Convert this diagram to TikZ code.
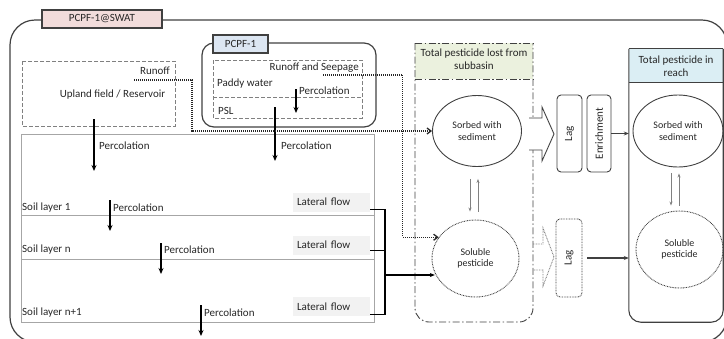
\documentclass[tikz,border=0pt]{standalone}
\usepackage{fontspec}
\setmainfont{Carlito}
\usetikzlibrary{shapes.geometric,arrows.meta,calc}
\definecolor{tabpink}{HTML}{F2DCDB}
\definecolor{tabblue}{HTML}{DCE6F2}
\definecolor{hdrgreen}{HTML}{EBF1DE}
\definecolor{hdrcyan}{HTML}{DBEEF4}
\definecolor{lfgray}{HTML}{F2F2F2}
\definecolor{ink}{HTML}{262626}
\definecolor{edge}{HTML}{404040}
\definecolor{soilgray}{HTML}{A6A6A6}
\definecolor{dashgray}{HTML}{808080}

\begin{document}
\begin{tikzpicture}[x=1pt,y=-1pt,
  txt/.style={font=\fontsize{11}{12.5}\selectfont, text=ink, inner sep=0pt},
  small/.style={font=\fontsize{10}{11.5}\selectfont, text=ink, align=center, inner sep=0pt},
  tabbox/.style={draw=edge, line width=1.1pt, txt, minimum height=18pt},
  dashbox/.style={draw=dashgray, line width=0.8pt, dash pattern=on 4pt off 2pt},
  perc/.style={-{Stealth[length=6pt,width=5pt]}, line width=1.2pt, black},
  flowdot/.style={-{Straight Barb[length=4pt,width=6pt]}, line width=1.3pt, black!85,
                  dash pattern=on 1.1pt off 0.9pt},
  lateral/.style={fill=lfgray, txt, text width=69pt, align=left, inner xsep=4pt,
                  minimum height=19pt},
  sorbed/.style={ellipse, draw=edge, line width=0.9pt, small},
  soluble/.style={ellipse, draw=edge, line width=0.9pt, dash pattern=on 0.8pt off 0.8pt, small},
  equil/.style={-{Stealth[length=4pt,width=3pt]}, line width=0.8pt, dashgray},
  lagbox/.style={draw=edge, line width=0.9pt, rounded corners=4pt},
  outflow/.style={-{Stealth[length=5pt,width=4pt]}, line width=1.2pt, edge}
]
\clip (0,0) rectangle (724,338);

% outer model frame and its tab
\draw[edge, line width=1.2pt, rounded corners=25pt] (10,20) rectangle (727,342);
\node[tabbox, fill=tabpink, minimum width=120pt] (swat) at (102,19) {PCPF-1@SWAT};

% PCPF-1 paddy module
\draw[edge, line width=1.2pt, rounded corners=12pt] (202,43) rectangle (376,127);
\node[tabbox, fill=tabblue, minimum width=55pt] (pcpf) at (240.5,44) {PCPF-1};
\draw[dashbox] (213,60) rectangle (362,118);
\draw[dashbox] (213,97) -- (362,97);
\node[txt, anchor=east] (rs) at (359,68) {Runoff and Seepage};
\node[txt, anchor=west] (paddy) at (217,84) {Paddy water};
\node[txt, anchor=west] (pwperc) at (299,91) {Percolation};
\node[txt, anchor=west] (psl) at (218,111) {PSL};
\coordinate (pw0) at (296,89);
\coordinate (pw1) at (296,113);
\draw[perc] (pw0) -- (pw1);

% upland field / reservoir
\draw[dashbox] (22,61) rectangle (175,126);
\node[txt, anchor=east] (runoff) at (170,71) {Runoff};
\node[txt] (upland) at (112.5,95) {Upland field / Reservoir};

% soil profile
\draw[soilgray, line width=1pt] (21,134) rectangle (374,322);
\draw[soilgray, line width=1pt] (21,215) -- (374,215);
\draw[soilgray, line width=1pt] (21,259) -- (374,259);

\coordinate (up0) at (94,119);  \coordinate (up1) at (94,171);
\draw[perc] (up0) -- (up1);
\node[txt, anchor=west] at (99,146) {Percolation};
\coordinate (ps0) at (275,107); \coordinate (ps1) at (275,161);
\draw[perc] (ps0) -- (ps1);
\node[txt, anchor=west] at (281,146) {Percolation};

\node[txt, anchor=west] (sl1) at (22,208) {Soil layer 1};
\coordinate (a10) at (110,200); \coordinate (a11) at (110,231);
\draw[perc] (a10) -- (a11);
\node[txt, anchor=west] at (113,208) {Percolation};

\node[txt, anchor=west] (sln) at (22,250) {Soil layer n};
\coordinate (a20) at (161,243); \coordinate (a21) at (161,274);
\draw[perc] (a20) -- (a21);
\node[txt, anchor=west] at (164,250) {Percolation};

\node[txt, anchor=west] (sln1) at (22,313) {Soil layer n+1};
\coordinate (a30) at (201,305); \coordinate (a31) at (201,336);
\draw[perc] (a30) -- (a31);
\node[txt, anchor=west] at (204,313) {Percolation};

\node[lateral] (lf1) at (331.5,202) {Lateral flow};
\node[lateral] (lf2) at (331.5,245) {Lateral flow};
\node[lateral] (lf3) at (331.5,306.5) {Lateral flow};

% total pesticide lost from subbasin
\fill[hdrgreen] (415,43) rectangle (533,79);
\draw[edge, line width=0.9pt, dash pattern=on 7pt off 2.5pt on 1.5pt off 2.5pt]
  (415,79) -- (533,79);
\draw[edge, line width=0.9pt, dash pattern=on 7pt off 2.5pt on 1.5pt off 2.5pt, rounded corners=14pt]
  (415,43) -- (415,322) -- (533,322) -- (533,43);
\draw[edge, line width=0.9pt, dash pattern=on 7pt off 2.5pt on 1.5pt off 2.5pt]
  (415,43) -- (533,43);
\node[txt, align=center] (lost) at (474,59) {Total pesticide lost from\\subbasin};

\node[sorbed, minimum width=89pt, minimum height=71pt] (sorb) at (477,131) {Sorbed with\\sediment};
\node[soluble, minimum width=87pt, minimum height=77pt] (sol) at (475.5,258.5) {Soluble\\pesticide};
\draw[equil] ($(sorb.south)+(-7,12)$) -- ($(sol.north)+(-5.5,-8)$);
\draw[equil] ($(sol.north)+(2.5,-8)$) -- ($(sorb.south)+(1,12)$);

% lateral flow collector
\coordinate (jn) at (385,275);
\draw[black, line width=1.1pt] ([yshift=2.5pt]lf1.south east) -| (jn);
\draw[black, line width=1.1pt] ([yshift=4.5pt]lf2.south east) -| (jn);
\draw[black, line width=1.1pt] ([yshift=2pt]lf3.south east) -| (jn);
\draw[-{Stealth[length=5pt,width=4pt]}, line width=1.1pt, black] (jn) -- (jn -| sol.200);

% surface runoff paths
\coordinate (ro0) at (134,80);
\draw[flowdot] (ro0) -| ($(sorb.west)+(-240,0)$) -- (sorb.west);
\coordinate (rs0) at (323,75);
\draw[flowdot] (rs0) -| ($(sol.150)+(-36,0)$) -- (sol.150);

% transfer to the reach
\draw[edge, line width=0.9pt, fill=white]
  (529,118) -- (542,118) -- (542,107) -- (554,134) -- (542,161) -- (542,150) -- (529,150);
\draw[dashgray, line width=0.9pt, dash pattern=on 0.8pt off 0.8pt]
  (533,244) -- (543,244) -- (543,228) -- (554,257) -- (543,286) -- (543,270) -- (533,270);

\node[lagbox, minimum width=25pt, minimum height=77pt] (lag1) at (569.5,133.5) {};
\node[txt, rotate=90] at (lag1) {Lag};
\node[lagbox, minimum width=24pt, minimum height=77pt] (enr) at (599,133.5) {};
\node[txt, rotate=90] at (enr) {Enrichment};
\node[lagbox, dash pattern=on 0.8pt off 0.8pt, minimum width=26pt, minimum height=78pt] (lag2) at (569,258) {};
\node[txt, rotate=90] at (lag2) {Lag};

% total pesticide in reach
\node[minimum width=94pt, minimum height=273pt, inner sep=0pt] (reach) at (676,185.5) {};
\fill[hdrcyan] (reach.north west) rectangle ($(reach.north east)+(0,34)$);
\draw[edge, line width=0.9pt] ($(reach.north west)+(0,34)$) -- ($(reach.north east)+(0,34)$);
\draw[edge, line width=1.1pt, rounded corners=12pt]
  (reach.north west) -- (reach.south west) -- (reach.south east) -- (reach.north east);
\draw[edge, line width=1.1pt] (reach.north west) -- (reach.north east);
\node[txt, align=center] (reachhdr) at (676,66) {Total pesticide in\\reach};

\node[sorbed, minimum width=90pt, minimum height=72pt] (rsorb) at (678,131) {Sorbed with\\sediment};
\node[soluble, minimum width=87pt, minimum height=77pt] (rsol) at (679.5,249.5) {Soluble\\pesticide};
\draw[equil] ($(rsorb.south)+(-7,6)$) -- ($(rsol.north)+(-8.5,-5)$);
\draw[equil] ($(rsol.north)+(-0.5,-5)$) -- ($(rsorb.south)+(1,6)$);

\draw[outflow, line width=1pt] (enr.east) -- (reach.west |- enr.east);
\draw[outflow, line width=1.4pt, shorten <=5pt] (lag2.east) -- (reach.west |- lag2.east);
\end{tikzpicture}
\end{document}
